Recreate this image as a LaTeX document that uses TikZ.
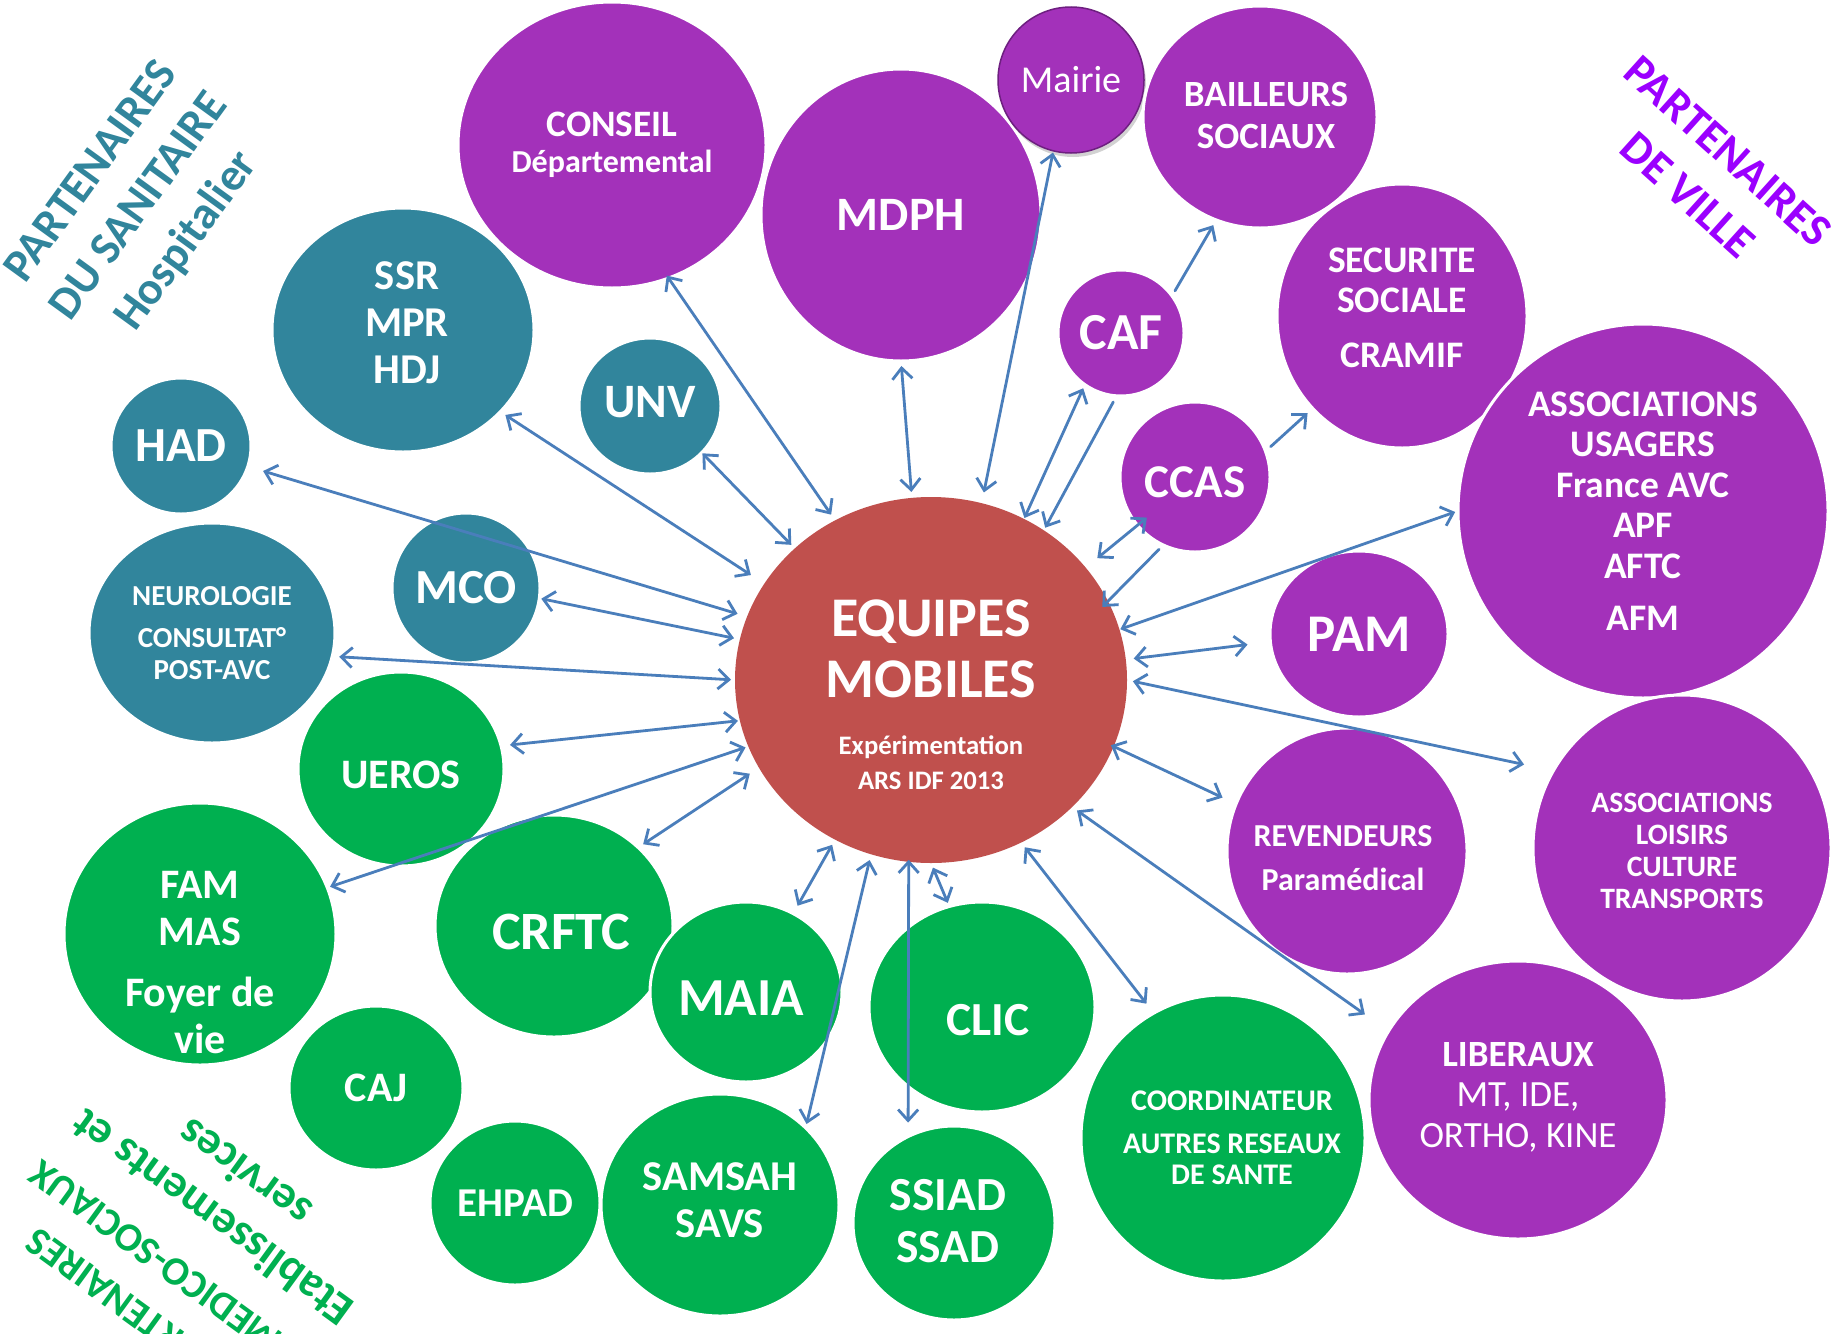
\documentclass[tikz,border=0pt]{standalone}
\usepackage{fontspec}
\setmainfont{Carlito}
\usetikzlibrary{shapes.geometric,arrows.meta,shadows}
\definecolor{cteal}{HTML}{31859C}
\definecolor{cpurp}{HTML}{A331BA}
\definecolor{cgreen}{HTML}{00B050}
\definecolor{cred}{HTML}{C0504D}
\definecolor{carrow}{HTML}{4A7EBB}
\definecolor{cviolet}{HTML}{9B00FF}
\definecolor{cmairie}{HTML}{6E1F80}
\pgfdeclarelayer{back}
\pgfsetlayers{back,main}
\newcommand\fsz[2]{\fontsize{#1}{#2}\selectfont}
\begin{document}
\begin{tikzpicture}[x=1pt,y=-1pt,
 bub/.style={ellipse, draw=white, line width=3pt, text=white, font=\bfseries, align=center, inner sep=0pt, outer sep=0pt},
 tealb/.style={bub, fill=cteal},
 purpb/.style={bub, fill=cpurp},
 greenb/.style={bub, fill=cgreen},
 txt/.style={text=white, align=center, inner sep=0pt},
 title/.style={font=\bfseries\fsz{46}{59}, align=center, inner sep=0pt},
 link/.style={draw=carrow, line width=2.8pt, line cap=round},
 dbl/.style={link, {Straight Barb[length=11pt,width=20pt]}-{Straight Barb[length=11pt,width=20pt]}},
 one/.style={link, -{Straight Barb[length=11pt,width=20pt]}},
]
\useasboundingbox (0,0) rectangle (1835,1333);
\fill[white] (0,0) rectangle (1835,1333);

% titles
\node[title, text=cteal, rotate=54] (ttl) at (140,207) {PARTENAIRES\\DU SANITAIRE\\Hospitalier};
\node[title, text=cviolet, rotate=-42] (ttr) at (1708,173) {PARTENAIRES\\DE VILLE};
\node[title, text=cgreen, rotate=144, font=\bfseries\fsz{40}{57}] (tbla) at (139,1280) {PARTENAIRES\\MEDICO-SOCIAUX};
\node[title, text=cgreen, rotate=144, font=\bfseries\fsz{46}{55}] (tblb) at (228,1196) {Etablissements et\\services};

% purple nodes
\node[purpb, minimum width=308pt, minimum height=286pt, font=\bfseries\fsz{37.3}{36}] (conseil) at (612,145) {CONSEIL\\{\fsz{32}{36}Départemental}};
\node[purpb, minimum width=280pt, minimum height=292pt, font=\bfseries\fsz{48}{50}] (mdph) at (901,215) {MDPH};
\node[ellipse, fill=cpurp, draw=cmairie, line width=1.5pt, minimum size=146pt, inner sep=0pt, text=white, font=\fsz{38}{40},
  drop shadow={shadow xshift=2pt, shadow yshift=-4pt, opacity=0.35}] (mairie) at (1071,80) {Mairie};
\node[purpb, minimum width=234pt, minimum height=222pt] (bail) at (1260,117) {};
\node[txt, font=\bfseries\fsz{37}{42}] (bailt) at ([xshift=6pt,yshift=1pt]bail.center) {BAILLEURS\\SOCIAUX};
\node[purpb, minimum width=126pt, minimum height=126pt, font=\bfseries\fsz{52}{55}] (caf) at (1121,333) {CAF};
\node[purpb, minimum width=250pt, minimum height=264pt] (secu) at (1402,316) {};
\node[txt, font=\bfseries\fsz{37.5}{40}] (secut) at ([yshift=8pt]secu.center) {SECURITE\\SOCIALE\\[15pt]CRAMIF};
\node[purpb, minimum width=150pt, minimum height=150pt] (ccas) at (1195,477) {};
\node[txt, font=\bfseries\fsz{47}{50}] (ccast) at ([yshift=-5pt]ccas.center) {CCAS};
\node[purpb, minimum width=370pt, minimum height=374pt, font=\bfseries\fsz{37.5}{40.5}] (usag) at (1643,511) {ASSOCIATIONS\\USAGERS\\France AVC\\APF\\AFTC\\[12pt]AFM};
\node[purpb, minimum width=178pt, minimum height=166pt, font=\bfseries\fsz{53}{55}] (pam) at (1359,634) {PAM};
\node[purpb, minimum width=298pt, minimum height=306pt] (lois) at (1682,848) {};
\node[txt, font=\bfseries\fsz{29.6}{32}] (loist) at ([yshift=-3pt]lois.center) {ASSOCIATIONS\\LOISIRS\\CULTURE\\TRANSPORTS};
\node[purpb, minimum width=240pt, minimum height=246pt] (rev) at (1347,851) {};
\node[txt, font=\bfseries\fsz{32}{44}] (revt) at ([xshift=-4pt,yshift=-7pt]rev.center) {REVENDEURS\\Paramédical};
\node[purpb, minimum width=298pt, minimum height=278pt] (lib) at (1518,1100) {};
\node[txt, font=\bfseries\fsz{37}{40.5}] (libt) at ([yshift=3pt]lib.center) {LIBERAUX\\{\mdseries MT, IDE,}\\{\mdseries ORTHO, KINE}};

% green nodes
\node[greenb, minimum width=284pt, minimum height=286pt] (coord) at (1223,1138) {};
\node[txt, font=\bfseries\fsz{30}{31}] (coordt) at ([xshift=9pt]coord.center) {COORDINATEUR\\[12pt]AUTRES RESEAUX\\DE SANTE};
\node[greenb, minimum width=202pt, minimum height=194pt] (ssiad) at (954,1223) {};
\node[txt, font=\bfseries\fsz{47.5}{52}] (ssiadt) at ([xshift=-6pt,yshift=2pt]ssiad.center) {SSIAD\\SSAD};
\node[greenb, minimum width=226pt, minimum height=210pt] (clic) at (982,1007) {};
\node[txt, font=\bfseries\fsz{47.5}{50}] (clict) at ([xshift=6pt,yshift=-13pt]clic.center) {CLIC};
\node[greenb, minimum width=238pt, minimum height=222pt] (samsah) at (720,1205) {};
\node[txt, font=\bfseries\fsz{42.5}{47}] (samsaht) at ([yshift=5pt]samsah.center) {SAMSAH\\SAVS};
\node[greenb, minimum width=170pt, minimum height=164pt, font=\bfseries\fsz{41}{44}] (ehpad) at (515,1203) {EHPAD};
\node[greenb, minimum width=174pt, minimum height=164pt, font=\bfseries\fsz{42}{44}] (caj) at (376,1088) {CAJ};
\node[greenb, minimum width=206pt, minimum height=194pt] (ueros) at (401,769) {};
\node[txt, font=\bfseries\fsz{42}{44}] (uerost) at ([yshift=-6pt]ueros.center) {UEROS};
\node[greenb, minimum width=238pt, minimum height=222pt] (crftc) at (554,926) {};
\node[txt, font=\bfseries\fsz{54}{55}] (crftct) at ([xshift=7pt,yshift=-6pt]crftc.center) {CRFTC};
\node[greenb, minimum width=192pt, minimum height=180pt] (maia) at (746,992) {};
\node[txt, font=\bfseries\fsz{53.5}{55}] (maiat) at ([xshift=-5pt,yshift=-6pt]maia.center) {MAIA};
\node[greenb, minimum width=272pt, minimum height=262pt] (fam) at (200,934) {};
\node[txt, font=\bfseries\fsz{42}{47}] (famtxt) at ([yshift=-29pt]fam.center) {FAM\\MAS\\[14pt]Foyer de\\vie};

% teal nodes
\node[tealb, minimum width=246pt, minimum height=220pt, font=\bfseries\fsz{29}{32}] (neuro) at (212,633) {NEUROLOGIE\\[10pt]CONSULTAT°\\POST-AVC};
\node[tealb, minimum width=140pt, minimum height=136pt, font=\bfseries\fsz{49}{50}] (had) at (181,446) {HAD};
\node[tealb, minimum width=262pt, minimum height=244pt] (ssr) at (403,330) {};
\node[txt, font=\bfseries\fsz{42.5}{47}] (ssrt) at ([xshift=4pt,yshift=7pt]ssr.center) {SSR\\MPR\\HDJ};
\node[tealb, minimum width=148pt, minimum height=150pt, font=\bfseries\fsz{49}{50}] (mco) at (466,588) {MCO};
\node[tealb, minimum width=142pt, minimum height=136pt] (unv) at (650,406) {};
\node[txt, font=\bfseries\fsz{48}{50}] (unvt) at ([yshift=4pt]unv.center) {UNV};

% centre
\node[bub, fill=cred, draw=none, minimum width=392pt, minimum height=366pt] (eq) at (931,680) {};
\node[txt, font=\bfseries\fsz{56}{61}] (eqtxt) at ([yshift=-15pt]eq.center) {EQUIPES\\MOBILES\\[-4pt]{\fsz{26.7}{35}Expérimentation}\\[-26pt]{\fsz{26.7}{35}ARS IDF 2013}};

% arrows hidden behind circles
\begin{pgfonlayer}{back}
\draw[dbl, shorten <=5pt, shorten >=-2pt] (caj.43) -- (eq.-144.5);
\draw[dbl, shorten <=4pt, shorten >=6pt] (ehpad.55) -- (eq.-137.5);
\end{pgfonlayer}

% arrows
\draw[dbl, shorten <=-3pt, shorten >=7pt] (conseil.-67) -- (eq.121);
\draw[dbl, shorten <=5pt, shorten >=6pt] (mdph.-90) -- (eq.96.4);
\draw[dbl, shorten <=1pt, shorten >=11pt] (mairie.-104) -- (eq.74.5);
\draw[dbl, shorten <=4pt, shorten >=1pt] (caf.-125.8) -- (eq.60.6);
\draw[one, shorten <=7pt, shorten >=3pt] (caf.-94.9) -- (eq.53.1);
\draw[one, shorten <=6pt, shorten >=6pt] (caf.36.2) -- (bail.-113.5);
\draw[dbl, shorten <=-12pt, shorten >=15pt] (ccas.-140.2) -- (eq.36.5);
\draw[one, shorten <=6pt, shorten >=-8pt] (ccas.-115.6) -- (eq.24.5);
\draw[one, shorten <=7pt, shorten >=7pt] (ccas.20.6) -- (secu.-134.1);
\draw[dbl, shorten <=3pt, shorten >=1pt] (usag.180) -- (eq.15.1);
\draw[dbl, shorten <=23pt, shorten >=8pt] (pam.-175.9) -- (eq.6.8);
\draw[dbl, shorten <=30pt, shorten >=6pt] (lois.149.6) -- (eq.-0.6);
\draw[dbl, shorten <=15pt, shorten >=-3pt] (rev.157) -- (eq.-20.5);
\draw[dbl, shorten <=29pt, shorten >=6pt] (lib.152.1) -- (eq.-42.7);
\draw[dbl, shorten <=12pt, shorten >=6pt] (coord.119.4) -- (eq.-61.3);
\draw[dbl, shorten <=4pt, shorten >=5pt] (clic.108.6) -- (eq.-90);
\draw[dbl, shorten <=14pt, shorten >=-2pt] (ssiad.118.9) -- (eq.-97.6);
\draw[dbl, shorten <=4pt, shorten >=6pt] (samsah.42.3) -- (eq.-109.3);
\draw[dbl, shorten <=9pt, shorten >=6pt] (maia.59.6) -- (eq.-121);
\draw[dbl, shorten <=6pt, shorten >=11pt] (crftc.43.3) -- (eq.-153.8);
\draw[dbl, shorten <=3pt, shorten >=3pt] (fam.20.3) -- (eq.-160.2);
\draw[dbl, shorten <=9pt, shorten >=2pt] (ueros.13.4) -- (eq.-168.3);
\draw[dbl, shorten <=7pt, shorten >=4pt] (neuro.-11.6) -- (eq.180);
\draw[dbl, shorten <=2pt, shorten >=6pt] (mco.-8.3) -- (eq.168.6);
\draw[dbl, shorten <=16pt, shorten >=10pt] (had.-17.6) -- (eq.161.2);
\draw[dbl, shorten <=6pt, shorten >=16pt] (ssr.-40.4) -- (eq.150.5);
\draw[dbl, shorten <=1pt, shorten >=5pt] (unv.-42.7) -- (eq.136);
\end{tikzpicture}
\end{document}
